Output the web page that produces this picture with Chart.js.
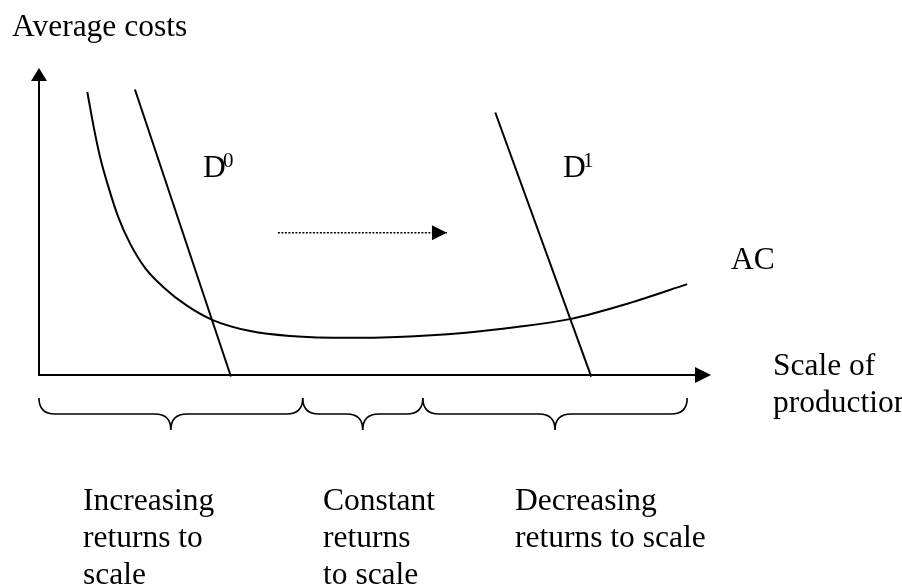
<!DOCTYPE html>
<html>
<head>
<meta charset="utf-8">
<title>Returns to scale</title>
<script src="https://cdn.jsdelivr.net/npm/chart.js@4.4.1/dist/chart.umd.min.js"></script>
<style>
  html, body { margin: 0; padding: 0; background: #fff; }
  canvas { display: block; }
</style>
</head>
<body>
<canvas id="scaleChart" width="902" height="584"></canvas>
<script>
// Average cost curve (scale of production vs. average cost, both on a 0-100 scale)
const acX = [7.2, 8.1, 9.1, 10.3, 11.8, 13.6, 15.8, 18.5, 22.1, 25.9, 31.5, 37.4, 46.4, 53.4, 63.2, 71.2, 79.1, 88.1, 96.6];
const acY = [92.2, 81.4, 71.0, 61.6, 51.5, 42.7, 34.9, 28.7, 22.5, 17.9, 14.3, 12.7, 12.1, 12.4, 13.7, 15.6, 18.2, 23.5, 29.6];

// Demand lines before and after the shift
const d0X = [14.3, 28.6];
const d0Y = [93, -0.5];
const d1X = [68, 82.3];
const d1Y = [85.5, -0.5];

// Dotted shift arrow between the two demand lines
const shiftX = [35.6, 60.8];
const shiftY = [46.3, 46.3];

// Region boundaries along the production axis, and their captions
const regionBounds = [0, 39.3, 57.2, 96.6];
const regionLabels = [
    ['Increasing', 'returns to', 'scale'],
    ['Constant', 'returns', 'to scale'],
    ['Decreasing', 'returns to scale']
];

const toPoints = (xs, ys) => xs.map((v, i) => ({ x: v, y: ys[i] }));

const FONT = '"Liberation Serif", "Times New Roman", serif';

// Filled triangular arrow head, tip at (tx, ty) pointing along (dx, dy)
function arrowHead(ctx, tx, ty, dx, dy, len, half) {
    const bx = tx - dx * len, by = ty - dy * len;
    ctx.beginPath();
    ctx.moveTo(tx, ty);
    ctx.lineTo(bx - dy * half, by + dx * half);
    ctx.lineTo(bx + dy * half, by - dx * half);
    ctx.closePath();
    ctx.fill();
}

// Horizontal curly brace opening upwards, pointing down at its middle
function brace(ctx, x0, x1, top, depth, r) {
    const mid = (x0 + x1) / 2;
    const h = top + depth / 2;
    ctx.beginPath();
    ctx.moveTo(x0, top);
    ctx.quadraticCurveTo(x0, h, x0 + r, h);
    ctx.lineTo(mid - r, h);
    ctx.quadraticCurveTo(mid, h, mid, top + depth);
    ctx.quadraticCurveTo(mid, h, mid + r, h);
    ctx.lineTo(x1 - r, h);
    ctx.quadraticCurveTo(x1, h, x1, top);
    ctx.stroke();
}

// Axes, arrows, braces and all the text
const diagramExtras = {
    id: 'diagramExtras',
    afterDatasetsDraw(chart) {
        const { ctx, chartArea: area, scales: { x, y } } = chart;
        ctx.save();
        ctx.strokeStyle = '#000';
        ctx.fillStyle = '#000';

        // axes with arrow heads
        ctx.lineWidth = 2;
        ctx.beginPath();
        ctx.moveTo(area.left, area.top + 10);
        ctx.lineTo(area.left, area.bottom);
        ctx.lineTo(area.right - 14, area.bottom);
        ctx.stroke();
        arrowHead(ctx, area.left, area.top, 0, -1, 13, 8);
        arrowHead(ctx, area.right + 1, area.bottom, 1, 0, 16, 8);

        // head of the shift arrow
        const sx = x.getPixelForValue(shiftX[1]);
        const sy = y.getPixelForValue(shiftY[1]);
        arrowHead(ctx, sx, sy, 1, 0, 15, 7.5);

        // braces under the axis
        ctx.lineWidth = 1.6;
        for (let i = 0; i < regionBounds.length - 1; i++) {
            brace(ctx, x.getPixelForValue(regionBounds[i]), x.getPixelForValue(regionBounds[i + 1]),
                area.bottom + 23, 32, 16);
        }

        // text
        ctx.textBaseline = 'alphabetic';
        ctx.textAlign = 'left';
        ctx.font = '31.5px ' + FONT;
        ctx.fillText('Average costs', 12, 36);
        ctx.fillText('D', 203, 177);
        ctx.fillText('D', 563, 177);
        ctx.fillText('AC', 731, 269);
        ctx.fillText('Scale of', 773, 375);
        ctx.fillText('production', 773, 412);

        const captionX = [83, 323, 515];
        regionLabels.forEach((lines, i) => {
            lines.forEach((line, j) => ctx.fillText(line, captionX[i], 510 + j * 37));
        });

        ctx.font = '21px ' + FONT;
        ctx.fillText('0', 223, 167);
        ctx.fillText('1', 583, 167);
        ctx.restore();
    }
};

const lineStyle = {
    showLine: true,
    borderColor: '#000',
    borderWidth: 2,
    pointRadius: 0,
    fill: false,
    clip: false
};

new Chart(document.getElementById('scaleChart').getContext('2d'), {
    type: 'scatter',
    data: {
        datasets: [
            { ...lineStyle, label: 'AC', data: toPoints(acX, acY), cubicInterpolationMode: 'monotone' },
            { ...lineStyle, label: 'D0', data: toPoints(d0X, d0Y) },
            { ...lineStyle, label: 'D1', data: toPoints(d1X, d1Y) },
            { ...lineStyle, label: 'shift', data: toPoints(shiftX, shiftY), borderWidth: 1.5, borderDash: [2, 1.5] }
        ]
    },
    options: {
        responsive: false,
        animation: false,
        devicePixelRatio: 1,
        layout: { padding: { left: 39, top: 68, right: 192, bottom: 209 } },
        scales: {
            x: { type: 'linear', min: 0, max: 100, display: false },
            y: { type: 'linear', min: 0, max: 100, display: false }
        },
        plugins: {
            legend: { display: false },
            tooltip: { enabled: false }
        }
    },
    plugins: [diagramExtras]
});
</script>
</body>
</html>
